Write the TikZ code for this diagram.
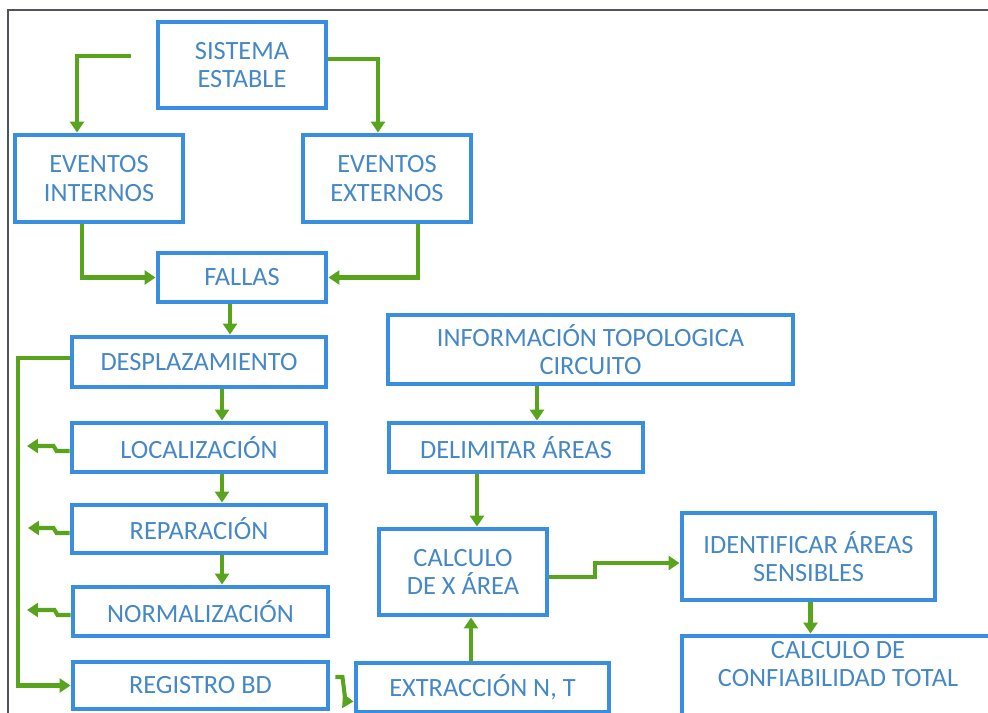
\documentclass[tikz,border=0pt]{standalone}
\usepackage{fontspec}
\setmainfont{Carlito}
\usetikzlibrary{arrows.meta,calc}
\definecolor{boxblue}{RGB}{58,142,224}
\definecolor{txtblue}{RGB}{70,136,198}
\definecolor{flowgreen}{RGB}{88,164,28}
\definecolor{framegray}{RGB}{80,84,90}
\tikzset{
  blk/.style={draw=boxblue, line width=2.8pt, fill=white, text=txtblue,
    font=\fontsize{15}{16.2}\selectfont, align=center, inner sep=0pt},
  lbl/.style={text=txtblue, font=\fontsize{15}{16.2}\selectfont, align=center, inner sep=0pt},
  flow/.style={draw=flowgreen, line width=2.3pt, line join=miter,
    -{Triangle[length=0.22cm,width=0.28cm]}},
}
% blkat{name}{x1}{y1}{x2}{y2}{text}: a box given by its pixel corners
\newcommand{\blkat}[6]{%
  \node[blk, minimum width={(#4-#2)*0.02cm}, minimum height={(#5-#3)*0.02cm}]
    (#1) at ({(#2+#4)/2},{(#3+#5)/2}) {#6};}
% vflow{from}{to}{dx}: straight vertical connector from the bottom of one box
% to the top of the one below, dx pixels off the first box's centre
\newcommand{\vflow}[3]{%
  \coordinate (#1-#2) at ($(#1.south)+(#3,0)$);
  \draw[flow] (#1-#2) -- (#1-#2 |- #2.north);}
\begin{document}
\begin{tikzpicture}[x=0.02cm, y=-0.02cm]
\useasboundingbox (0,0) rectangle (988,713);
\clip (0,0) rectangle (988,713);
\fill[white] (0,0) rectangle (988,713);
% outer frame (top and left edges)
\draw[framegray, line width=0.9pt] (8,740) -- (8,10) -- (1000,10);

% boxes
\blkat{sis}{158}{22}{326}{108}{SISTEMA\\ESTABLE}
\blkat{eint}{15}{135}{183}{222}{EVENTOS\\INTERNOS}
\blkat{eext}{303}{135}{471}{222}{EVENTOS\\EXTERNOS}
\blkat{fallas}{158}{253}{326}{302}{FALLAS}
\blkat{desp}{72}{337}{326}{387}{DESPLAZAMIENTO}
\blkat{loc}{72}{423}{326}{472}{LOCALIZACIÓN}
\blkat{rep}{72}{505}{326}{553}{REPARACIÓN}
\blkat{norm}{73}{587}{328}{636}{NORMALIZACIÓN}
\blkat{reg}{73}{662}{328}{709}{REGISTRO BD}
\blkat{info}{388}{315}{793}{384}{INFORMACIÓN TOPOLOGICA\\CIRCUITO}
\blkat{delim}{389}{423}{643}{472}{DELIMITAR ÁREAS}
\blkat{calc}{379}{529}{547}{615}{CALCULO\\DE X ÁREA}
\blkat{extr}{356}{663}{609}{712}{EXTRACCIÓN N, T}
\blkat{ident}{682}{513}{935}{600}{IDENTIFICAR ÁREAS\\SENSIBLES}
\blkat{ctotal}{682}{636}{994}{760}{}
\node[lbl] (ctotaltxt) at (838,664) {CALCULO DE\\CONFIABILIDAD TOTAL};

% free ends of connectors
\coordinate (sisL) at (131,56);
\coordinate (rail) at (18,0);
\coordinate (tipA) at (27,446);
\coordinate (tipB) at (28,528);
\coordinate (tipC) at (27,610);

% top part
\draw[flow] (sisL) -| ($(eint.north)+(-22,0)$);
\draw[flow] ($(sis.east)+(0,-6)$) -| ($(eext.north)+(-9,0)$);
\coordinate (eintS) at ($(eint.south)+(-17,0)$);
\draw[flow] (eintS) |- (fallas.west);
\coordinate (eextS) at ($(eext.south)+(31,0)$);
\draw[flow] (eextS) |- (fallas.east);
\vflow{fallas}{desp}{-12}

% main column
\vflow{desp}{loc}{23}
\vflow{loc}{rep}{23}
\vflow{rep}{norm}{23}
\draw[flow] ($(desp.west)+(0,-4)$) -| (rail |- reg.west) -- (reg.west);

% side outputs
\draw[flow] ($(loc.west)+(0,3.5)$) -- ++(-13,0) -- ++(-3,-5) -- (tipA);
\draw[flow] ($(rep.west)+(0,4)$) -- ++(-13,0) -- ++(-3,-5) -- (tipB);
\draw[flow] ($(norm.west)+(0,3.5)$) -- ++(-13,0) -- ++(-3,-5) -- (tipC);

% right part
\draw[flow] ($(reg.east)+(5,-8.5)$) -- ++(7,0) -- ++(3,24) -- ($(extr.west)+(0,14)$);
\coordinate (extrN) at ($(extr.north)+(-11.5,0)$);
\draw[flow] (extrN) -- (extrN |- calc.south);
\vflow{info}{delim}{-53.5}
\vflow{delim}{calc}{-39}
\draw[flow] ($(calc.east)+(0,5)$) -- ++(46,0) |- ($(ident.west)+(0,6.5)$);
\vflow{ident}{ctotal}{2}
\end{tikzpicture}
\end{document}
